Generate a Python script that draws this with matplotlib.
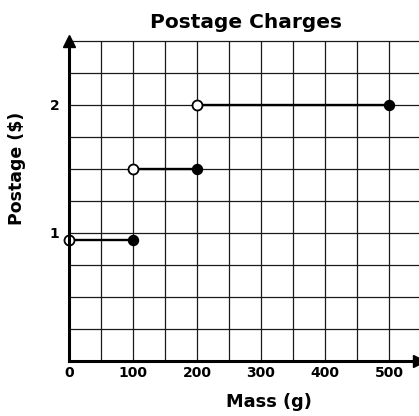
import matplotlib.pyplot as plt
import numpy as np

# --- data ---
seg_start = [0, 100, 200]       # mass (g), open end
seg_end = [100, 200, 500]       # mass (g), closed end
seg_cost = [0.94, 1.5, 2.0]     # postage ($)
x_labels = [0, 100, 200, 300, 400, 500]
y_labels = [1, 2]

plt.rcParams["font.family"] = ["DejaVu Sans"]
plt.rcParams["font.weight"] = "bold"

fig = plt.figure(figsize=(4.19, 4.16), dpi=100)
ax = fig.add_axes([69 / 419, (416 - 360.7) / 416, 350 / 419, (360.7 - 41) / 416])

ax.set_xlim(0, 547)
ax.set_ylim(0, 2.5)

# grid every 50 g / 0.25 $
for gx in np.arange(50, 550, 50):
    ax.axvline(gx, color="#1a1a1a", lw=0.9, zorder=1)
for gy in np.arange(0.25, 2.51, 0.25):
    ax.axhline(gy, color="#1a1a1a", lw=0.9, zorder=1, clip_on=False)

for x0, x1, c in zip(seg_start, seg_end, seg_cost):
    ax.plot([x0, x1], [c, c], color="black", lw=1.7, zorder=3)
    ax.plot(x0, c, "o", ms=7.2, mfc="white", mec="black", mew=1.3, zorder=4, clip_on=False)
    ax.plot(x1, c, "o", ms=7.2, mfc="black", mec="black", zorder=4, clip_on=False)

for s in ["top", "right"]:
    ax.spines[s].set_visible(False)
for s in ["left", "bottom"]:
    ax.spines[s].set_linewidth(2.2)
    ax.spines[s].set_zorder(5)

# axis arrows
ax.plot(1, 0, ">", ms=8, color="black", transform=ax.transAxes, clip_on=False, zorder=6)
ax.plot(0, 1, "^", ms=8, color="black", transform=ax.transAxes, clip_on=False, zorder=6)

ax.set_xticks(x_labels)
ax.set_xticklabels([str(v) for v in x_labels], fontsize=10, fontweight="bold")
ax.set_yticks(y_labels)
ax.set_yticklabels([str(v) for v in y_labels], fontsize=10, fontweight="bold")
ax.tick_params(axis="x", length=0, pad=4)
ax.tick_params(axis="y", length=0, pad=7)

fig.text(246 / 419, 1 - 23 / 416, "Postage Charges", ha="center", va="center",
         fontsize=14.5, fontweight="bold")
fig.text(269 / 419, 1 - 402 / 416, "Mass (g)", ha="center", va="center",
         fontsize=12.8, fontweight="bold")
fig.text(17 / 419, 1 - 168 / 416, "Postage ($)", ha="center", va="center",
         rotation=90, fontsize=12.5, fontweight="bold")

fig.savefig("out.png", dpi=100)
